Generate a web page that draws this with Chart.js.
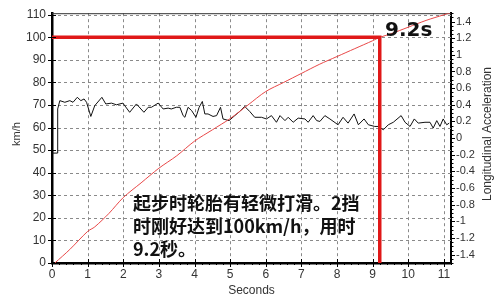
<!DOCTYPE html>
<html>
<head>
<meta charset="utf-8">
<script src="https://cdn.jsdelivr.net/npm/chart.js@4"></script>
<style>
  html, body { margin: 0; padding: 0; background: #fff; }
  #wrap { width: 500px; height: 298px; }
</style>
</head>
<body>
<div id="wrap"><canvas id="accChart" width="500" height="298"></canvas></div>
<script>
// 速度曲线 (km/h)
var speedTime = [0.08, 0.5, 1.0, 1.2, 1.6, 2.0, 2.5, 3.0, 3.5, 4.0, 4.5, 5.0, 5.5, 6.0, 6.5, 7.0, 7.5, 8.0, 8.5, 9.0, 9.2, 9.5, 10.0, 10.5, 11.0, 11.2];
var speedKmh  = [0, 6, 14, 16, 22, 29, 35.5, 42, 47.5, 54, 59, 64, 70, 76, 80, 84, 88, 91.5, 95, 98.5, 100, 101.5, 104.5, 107.5, 110, 111];

// 纵向加速度 (g)
var accTime = [0, 0.15, 0.16, 0.22, 0.36, 0.50, 0.59, 0.71, 0.81, 0.90, 0.97, 1.09, 1.20, 1.40, 1.51, 1.67, 1.81, 1.99,
  2.18, 2.37, 2.58, 2.70, 2.79, 2.98, 3.12, 3.26, 3.35, 3.49, 3.59, 3.68, 3.73, 3.82, 3.92, 4.04, 4.13, 4.22, 4.29,
  4.38, 4.52, 4.62, 4.73, 4.80, 4.97, 5.13, 5.27, 5.41, 5.55, 5.69, 5.88, 6.02, 6.16, 6.30, 6.40, 6.54, 6.63, 6.77,
  6.91, 7.10, 7.19, 7.33, 7.43, 7.52, 7.66, 7.80, 8.03, 8.17, 8.31, 8.48, 8.60, 8.76, 8.88, 9.06, 9.16, 9.30, 9.44,
  9.58, 9.80, 9.91, 10.05, 10.17, 10.28, 10.47, 10.61, 10.70, 10.80, 10.89, 10.98, 11.08, 11.15];
var accG = [-0.18, -0.18, 0.35, 0.45, 0.43, 0.45, 0.43, 0.49, 0.45, 0.47, 0.43, 0.26, 0.39, 0.49, 0.41, 0.42, 0.40, 0.42,
  0.31, 0.41, 0.31, 0.37, 0.37, 0.42, 0.35, 0.36, 0.35, 0.37, 0.37, 0.27, 0.25, 0.37, 0.33, 0.25, 0.37, 0.44, 0.29,
  0.29, 0.26, 0.27, 0.37, 0.23, 0.21, 0.27, 0.32, 0.38, 0.32, 0.25, 0.25, 0.23, 0.27, 0.19, 0.27, 0.21, 0.25, 0.19,
  0.24, 0.23, 0.19, 0.27, 0.21, 0.20, 0.27, 0.23, 0.16, 0.25, 0.18, 0.29, 0.16, 0.23, 0.16, 0.14, 0.14, 0.10, 0.16,
  0.19, 0.27, 0.19, 0.14, 0.23, 0.18, 0.19, 0.19, 0.12, 0.21, 0.14, 0.23, 0.16, 0.18];

// 100km/h 标记
var markTime = [0, 9.2, 9.2];
var markSpeed = [100, 100, 0];

// 刻度
var secondTicks = [0, 1, 2, 3, 4, 5, 6, 7, 8, 9, 10, 11];
var speedTicks = [0, 10, 20, 30, 40, 50, 60, 70, 80, 90, 100, 110];
var accTicks = [-1.4, -1.2, -1, -0.8, -0.6, -0.4, -0.2, 0, 0.2, 0.4, 0.6, 0.8, 1, 1.2, 1.4];

var noteLines = ['起步时轮胎有轻微打滑。2挡', '时刚好达到100km/h，用时', '9.2秒。'];

function toPoints(xs, ys) {
    return xs.map(function (x, i) { return { x: x, y: ys[i] }; });
}

// 虚线网格
var gridPlugin = {
    id: 'dashGrid',
    beforeDatasetsDraw: function (chart) {
        var ctx = chart.ctx;
        var xs = chart.scales.x, ys = chart.scales.y;
        var area = chart.chartArea;
        ctx.save();
        ctx.strokeStyle = '#8a8a8a';
        ctx.lineWidth = 1;
        ctx.setLineDash([3, 3]);
        ctx.beginPath();
        secondTicks.forEach(function (v) {
            if (v === 0) return;
            var px = Math.round(xs.getPixelForValue(v)) + 0.5;
            ctx.moveTo(px, area.top);
            ctx.lineTo(px, area.bottom);
        });
        speedTicks.forEach(function (v) {
            if (v === 0) return;
            var py = Math.round(ys.getPixelForValue(v)) + 0.5;
            ctx.moveTo(area.left, py);
            ctx.lineTo(area.right, py);
        });
        ctx.stroke();
        ctx.setLineDash([]);
        // 上边框
        ctx.strokeStyle = '#333';
        ctx.beginPath();
        ctx.moveTo(area.left, area.top + 0.5);
        ctx.lineTo(area.right, area.top + 0.5);
        ctx.stroke();
        ctx.restore();
    }
};

// 次刻度和文字
var overlayPlugin = {
    id: 'overlay',
    afterDraw: function (chart) {
        var ctx = chart.ctx;
        var xs = chart.scales.x, ys = chart.scales.y, y2 = chart.scales.y2;
        var area = chart.chartArea;
        ctx.save();
        ctx.strokeStyle = '#000';
        ctx.lineWidth = 1;
        ctx.beginPath();
        // x 轴刻度
        for (var i = 0; i <= 56; i++) {
            var v = i * 0.2;
            var px = Math.round(xs.getPixelForValue(v)) + 0.5;
            var major = (i % 5 === 0);
            ctx.moveTo(px, area.bottom - (major ? 4 : 0));
            ctx.lineTo(px, area.bottom + (major ? 4 : 2));
        }
        // 左轴刻度
        speedTicks.forEach(function (v) {
            var py = Math.round(ys.getPixelForValue(v)) + 0.5;
            ctx.moveTo(area.left - 4, py);
            ctx.lineTo(area.left + 4, py);
        });
        // 右轴刻度
        for (var j = -30; j <= 30; j++) {
            var a = j * 0.05;
            var py2 = Math.round(y2.getPixelForValue(a)) + 0.5;
            var big = (j % 4 === 0 && j !== -30 && j !== 30);
            ctx.moveTo(area.right, py2);
            ctx.lineTo(area.right + (big ? 4 : 2.5), py2);
        }
        ctx.stroke();

        // 轴标题
        ctx.fillStyle = '#333';
        ctx.textAlign = 'center';
        ctx.textBaseline = 'middle';
        ctx.font = '11px "Liberation Sans", sans-serif';
        ctx.translate(17, 134);
        ctx.rotate(-Math.PI / 2);
        ctx.fillText('km/h', 0, 0);
        ctx.setTransform(1, 0, 0, 1, 0, 0);
        ctx.translate(488, 134);
        ctx.rotate(-Math.PI / 2);
        ctx.font = '12px "Liberation Sans", sans-serif';
        ctx.fillText('Longitudinal Acceleration', 0, 0);
        ctx.setTransform(1, 0, 0, 1, 0, 0);

        // 9.2s
        ctx.fillStyle = '#111';
        ctx.textAlign = 'left';
        ctx.font = 'bold 20px "DejaVu Sans", sans-serif';
        ctx.fillText('9.2s', 385, 31);

        // 说明文字
        ctx.font = 'bold 18px "Noto Sans CJK SC", sans-serif';
        noteLines.forEach(function (line, k) {
            ctx.fillText(line, 133, 203 + k * 23);
        });
        ctx.restore();
    }
};

var ctx = document.getElementById('accChart').getContext('2d');
var chart = new Chart(ctx, {
    type: 'line',
    data: {
        datasets: [
            {
                label: 'mark',
                data: toPoints(markTime, markSpeed),
                yAxisID: 'y',
                borderColor: '#e01818',
                borderWidth: 3.5,
                pointRadius: 0,
                tension: 0,
                order: 0
            },
            {
                label: 'Longitudinal Acceleration',
                data: toPoints(accTime, accG),
                yAxisID: 'y2',
                borderColor: '#111',
                borderWidth: 1,
                pointRadius: 0,
                tension: 0,
                order: 2
            },
            {
                label: 'km/h',
                data: toPoints(speedTime, speedKmh),
                yAxisID: 'y',
                borderColor: '#e84848',
                borderWidth: 1,
                pointRadius: 0,
                tension: 0.3,
                order: 1
            }
        ]
    },
    options: {
        responsive: false,
        animation: false,
        events: [],
        layout: { padding: { top: 5, left: 0, right: 0, bottom: 0 } },
        plugins: { legend: { display: false }, tooltip: { enabled: false } },
        scales: {
            x: {
                type: 'linear',
                min: 0,
                max: 11.2,
                afterBuildTicks: function (s) { s.ticks = secondTicks.map(function (v) { return { value: v }; }); },
                afterFit: function (s) { s.height = 35; },
                ticks: { color: '#333', font: { family: 'Liberation Sans', size: 12 }, padding: 4, maxRotation: 0 },
                grid: { display: false, drawTicks: false },
                border: { color: '#000', width: 2.5 },
                title: { display: true, text: 'Seconds', color: '#333', font: { family: 'Liberation Sans', size: 12 }, padding: { top: 2, bottom: 0 } }
            },
            y: {
                position: 'left',
                min: 0,
                max: 110.7,
                afterBuildTicks: function (s) { s.ticks = speedTicks.map(function (v) { return { value: v }; }); },
                afterFit: function (s) { s.width = 52; },
                ticks: { color: '#333', font: { family: 'Liberation Sans', size: 12 }, padding: 6 },
                grid: { display: false, drawTicks: false },
                border: { color: '#000', width: 2.5 }
            },
            y2: {
                position: 'right',
                min: -1.5,
                max: 1.5,
                afterBuildTicks: function (s) { s.ticks = accTicks.map(function (v) { return { value: v }; }); },
                afterFit: function (s) { s.width = 49; },
                ticks: { color: '#333', font: { family: 'Liberation Sans', size: 11 }, padding: 5,
                    callback: function (v) { return String(Math.round(v * 10) / 10); } },
                grid: { display: false, drawOnChartArea: false, drawTicks: false },
                border: { color: '#000', width: 2 }
            }
        }
    },
    plugins: [gridPlugin, overlayPlugin]
});
</script>
</body>
</html>
